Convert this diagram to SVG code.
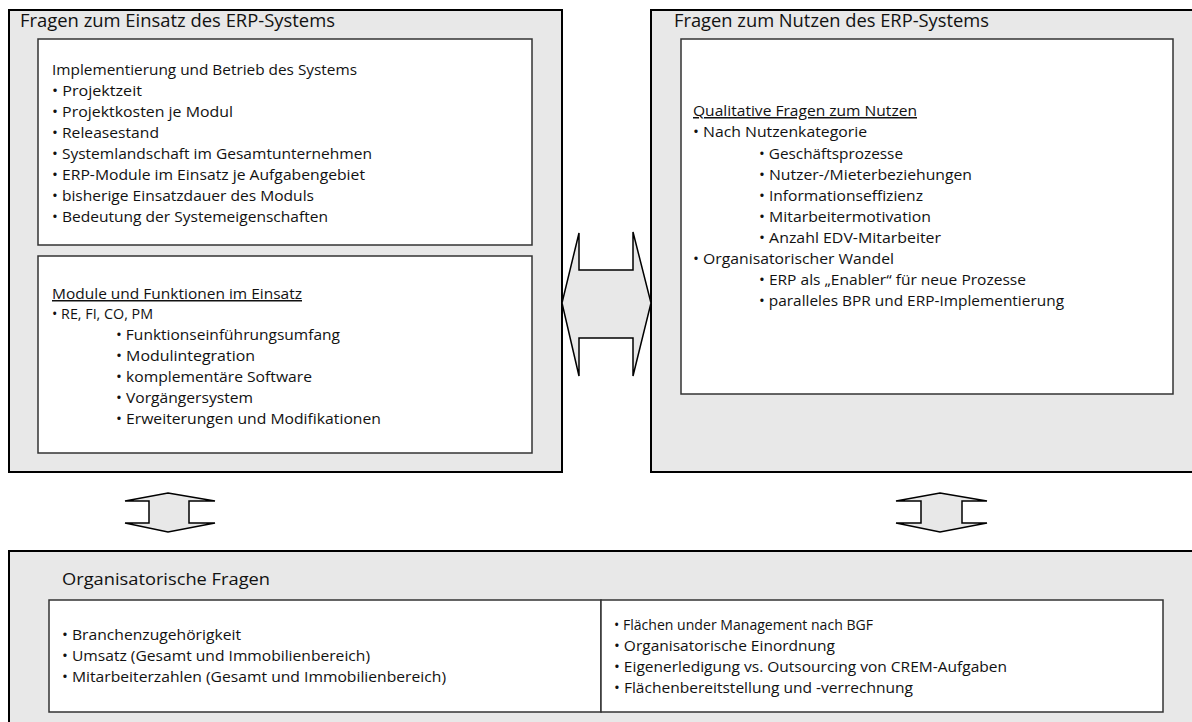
<svg xmlns="http://www.w3.org/2000/svg" width="1192" height="722" viewBox="0 0 1192 722">
<style>
.outer{fill:#e8e8e8;stroke:#000;stroke-width:2}
.inner{fill:#fff;stroke:#333;stroke-width:1.5}
.arr{fill:#e8e8e8;stroke:#000;stroke-width:1.5;stroke-linejoin:miter}
text{font-family:"Open Sans","Liberation Sans",sans-serif;fill:#111}
.t{font-size:18px}
.b{font-size:15px}
.u{text-decoration:underline}
</style>
<rect width="1192" height="722" fill="#fff"/>
<g id="einsatz">
<rect class="outer" x="9" y="10" width="553" height="462"/>
<text class="t" x="20" y="27" textLength="315" lengthAdjust="spacingAndGlyphs">Fragen zum Einsatz des ERP-Systems</text>
<g id="implementierung">
<rect class="inner" x="38" y="39" width="494" height="206"/>
<text class="b" x="52" y="75" textLength="305" lengthAdjust="spacingAndGlyphs">Implementierung und Betrieb des Systems</text>
<text class="b" x="52" y="96" textLength="90" lengthAdjust="spacingAndGlyphs">• Projektzeit</text>
<text class="b" x="52" y="117" textLength="181" lengthAdjust="spacingAndGlyphs">• Projektkosten je Modul</text>
<text class="b" x="52" y="138" textLength="107" lengthAdjust="spacingAndGlyphs">• Releasestand</text>
<text class="b" x="52" y="159" textLength="320" lengthAdjust="spacingAndGlyphs">• Systemlandschaft im Gesamtunternehmen</text>
<text class="b" x="52" y="180" textLength="313" lengthAdjust="spacingAndGlyphs">• ERP-Module im Einsatz je Aufgabengebiet</text>
<text class="b" x="52" y="201" textLength="262" lengthAdjust="spacingAndGlyphs">• bisherige Einsatzdauer des Moduls</text>
<text class="b" x="52" y="222" textLength="276" lengthAdjust="spacingAndGlyphs">• Bedeutung der Systemeigenschaften</text>
</g>
<g id="module">
<rect class="inner" x="38" y="256" width="494" height="197"/>
<text class="b u" x="52" y="299" textLength="250" lengthAdjust="spacingAndGlyphs">Module und Funktionen im Einsatz</text>
<text class="b" x="52" y="319" textLength="101" lengthAdjust="spacingAndGlyphs">• RE, FI, CO, PM</text>
<text class="b" x="116" y="340" textLength="224" lengthAdjust="spacingAndGlyphs">• Funktionseinführungsumfang</text>
<text class="b" x="116" y="361" textLength="139" lengthAdjust="spacingAndGlyphs">• Modulintegration</text>
<text class="b" x="116" y="382" textLength="196" lengthAdjust="spacingAndGlyphs">• komplementäre Software</text>
<text class="b" x="116" y="403" textLength="137" lengthAdjust="spacingAndGlyphs">• Vorgängersystem</text>
<text class="b" x="116" y="424" textLength="265" lengthAdjust="spacingAndGlyphs">• Erweiterungen und Modifikationen</text>
</g>
</g>
<g id="nutzen">
<rect class="outer" x="651" y="10" width="560" height="462"/>
<text class="t" x="674" y="27" textLength="315" lengthAdjust="spacingAndGlyphs">Fragen zum Nutzen des ERP-Systems</text>
<g id="qualitativ">
<rect class="inner" x="681" y="39" width="492" height="355"/>
<text class="b u" x="693" y="116" textLength="224" lengthAdjust="spacingAndGlyphs">Qualitative Fragen zum Nutzen</text>
<text class="b" x="693" y="137" textLength="174" lengthAdjust="spacingAndGlyphs">• Nach Nutzenkategorie</text>
<text class="b" x="759" y="159" textLength="144" lengthAdjust="spacingAndGlyphs">• Geschäftsprozesse</text>
<text class="b" x="759" y="180" textLength="213" lengthAdjust="spacingAndGlyphs">• Nutzer-/Mieterbeziehungen</text>
<text class="b" x="759" y="201" textLength="164" lengthAdjust="spacingAndGlyphs">• Informationseffizienz</text>
<text class="b" x="759" y="222" textLength="172" lengthAdjust="spacingAndGlyphs">• Mitarbeitermotivation</text>
<text class="b" x="759" y="243" textLength="182" lengthAdjust="spacingAndGlyphs">• Anzahl EDV-Mitarbeiter</text>
<text class="b" x="693" y="264" textLength="201" lengthAdjust="spacingAndGlyphs">• Organisatorischer Wandel</text>
<text class="b" x="759" y="285" textLength="267" lengthAdjust="spacingAndGlyphs">• ERP als „Enabler“ für neue Prozesse</text>
<text class="b" x="759" y="306" textLength="305" lengthAdjust="spacingAndGlyphs">• paralleles BPR und ERP-Implementierung</text>
</g>
</g>
<g id="organisation">
<rect class="outer" x="9" y="551" width="1202" height="190"/>
<text class="b" style="font-size:17px" x="62" y="585" textLength="208" lengthAdjust="spacingAndGlyphs">Organisatorische Fragen</text>
<g id="org-links">
<rect class="inner" x="49" y="600" width="552" height="112"/>
<text class="b" x="62" y="640" textLength="179" lengthAdjust="spacingAndGlyphs">• Branchenzugehörigkeit</text>
<text class="b" x="62" y="661" textLength="308" lengthAdjust="spacingAndGlyphs">• Umsatz (Gesamt und Immobilienbereich)</text>
<text class="b" x="62" y="682" textLength="384" lengthAdjust="spacingAndGlyphs">• Mitarbeiterzahlen (Gesamt und Immobilienbereich)</text>
</g>
<g id="org-rechts">
<rect class="inner" x="601" y="600" width="562" height="112"/>
<text class="b" x="614" y="630" textLength="259" lengthAdjust="spacingAndGlyphs">• Flächen under Management nach BGF</text>
<text class="b" x="614" y="651" textLength="221" lengthAdjust="spacingAndGlyphs">• Organisatorische Einordnung</text>
<text class="b" x="614" y="672" textLength="393" lengthAdjust="spacingAndGlyphs">• Eigenerledigung vs. Outsourcing von CREM-Aufgaben</text>
<text class="b" x="614" y="693" textLength="299" lengthAdjust="spacingAndGlyphs">• Flächenbereitstellung und -verrechnung</text>
</g>
</g>
<g id="connectors">
<polygon class="arr" points="562,303 579,233 579,270 633,270 633,232 651,303 633,376 633,338 579,338 579,376"/>
<polygon class="arr" points="168,493 215,501 189,501 189,523 215,523 168,532 125,523 149,523 149,501 125,501"/>
<polygon class="arr" points="940,493 987,501 962,501 962,523 987,523 940,532 896,523 921,523 921,501 896,501"/>
</g>
</svg>
